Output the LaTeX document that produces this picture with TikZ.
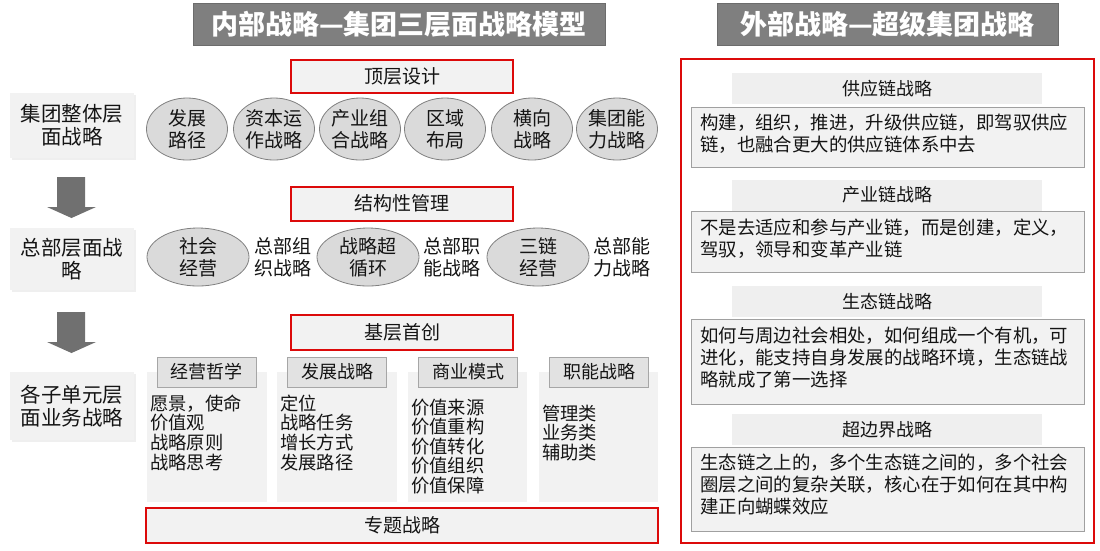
\documentclass[tikz,border=0pt]{standalone}
\usepackage{fontspec}
\setmainfont{Noto Sans CJK SC}
\usetikzlibrary{shapes.geometric,shadows}
\definecolor{tgray}{HTML}{7F7F7F}
\definecolor{redc}{HTML}{DC0A0A}
\definecolor{boxfill}{HTML}{F2F2F2}
\definecolor{efill}{HTML}{DADADA}
\definecolor{eborder}{HTML}{808080}
\definecolor{hfill}{HTML}{E2E2E2}
\definecolor{hborder}{HTML}{A6A6A6}
\definecolor{rhfill}{HTML}{EFEFEF}
\definecolor{rborder}{HTML}{A0A0A0}
\definecolor{agray}{HTML}{707070}
\definecolor{txt}{HTML}{141414}
\begin{document}
\begin{tikzpicture}[x=1pt,y=-1pt,
  every node/.style={text=txt},
  titlebox/.style={fill=tgray, draw=tgray!85!black, line width=0.6pt, text=white, inner sep=0,
    font=\fontsize{27}{30}\selectfont\bfseries, minimum height=42},
  redbox/.style={draw=redc, line width=2pt, fill=boxfill, inner sep=0, minimum width=222,
    font=\fontsize{19}{22}\selectfont},
  lbl/.style={fill=boxfill, align=center, inner sep=0, minimum width=124,
    font=\fontsize{20.5}{23}\selectfont,
    drop shadow={opacity=0.12, shadow xshift=1.5pt, shadow yshift=-1.5pt}},
  ell/.style={ellipse, draw=eborder, fill=efill, line width=0.8pt, align=center, inner sep=0,
    font=\fontsize{19}{22}\selectfont},
  plaintxt/.style={align=center, inner sep=0, font=\fontsize{19}{22}\selectfont},
  hdr/.style={draw=hborder, fill=hfill, line width=0.8pt, minimum width=99, minimum height=30,
    inner sep=0, font=\fontsize{18}{20}\selectfont},
  colbg/.style={fill=boxfill, draw=none},
  listtxt/.style={anchor=north west, align=left, inner sep=0, font=\fontsize{18.3}{19.6}\selectfont},
  rhdr/.style={fill=rhfill, minimum width=310, minimum height=31, inner sep=0,
    font=\fontsize{18}{20}\selectfont},
  rbox/.style={draw=rborder, fill=boxfill, line width=0.8pt},
  rtxt/.style={anchor=north west, align=left, inner sep=0, font=\fontsize{18.4}{22}\selectfont},
  downarrow/.style={fill=agray, draw=none}
]
\useasboundingbox (0,0) rectangle (1100,550);
\fill[white] (0,0) rectangle (1100,550);

% titles
\node[titlebox, minimum width=412] (t1) at (399,24) {内部战略—集团三层面战略模型};
\node[titlebox, minimum width=341] (t2) at (887.5,24) {外部战略—超级集团战略};

% left labels
\node[lbl, minimum height=65] (l1) at (72,125.5) {集团整体层\\面战略};
\node[lbl, minimum height=62] (l2) at (72,259) {总部层面战\\略};
\node[lbl, minimum height=68] (l3) at (72,406) {各子单元层\\面业务战略};

% down arrows
\fill[downarrow] (57,177) -- (85,177) -- (85,207) -- (96,207) -- (71.5,218) -- (47,207) -- (57,207) -- cycle;
\fill[downarrow] (57,312) -- (85,312) -- (85,342) -- (96,342) -- (71.5,353) -- (47,342) -- (57,342) -- cycle;

% row 1
\node[redbox, minimum height=33] (top) at (402,76.5) {顶层设计};
\foreach \x/\t [count=\i] in {187/发展\\路径, 274/资本运\\作战略, 360/产业组\\合战略, 445/区域\\布局, 532/横向\\战略, 617/集团能\\力战略}
  \node[ell, minimum width=81, minimum height=62] (e1\i) at (\x,129) {\t};

% row 2
\node[redbox, minimum height=34] (mid) at (402,203.5) {结构性管理};
\node[ell, minimum width=102, minimum height=58] (e21) at (198,257) {社会\\经营};
\node[plaintxt] (p21) at (283,257) {总部组\\织战略};
\node[ell, minimum width=102, minimum height=58] (e22) at (368,257) {战略超\\循环};
\node[plaintxt] (p22) at (452,257) {总部职\\能战略};
\node[ell, minimum width=102, minimum height=58] (e23) at (538,257) {三链\\经营};
\node[plaintxt] (p23) at (622,257) {总部能\\力战略};

% row 3
\node[redbox, minimum height=35] (bot) at (402,332.5) {基层首创};
\fill[colbg] (147,372) rectangle (267,502);
\fill[colbg] (277,372) rectangle (397,502);
\fill[colbg] (408,372) rectangle (527,502);
\fill[colbg] (539,372) rectangle (658,502);
\node[hdr] (h1) at (206.5,372) {经营哲学};
\node[hdr] (h2) at (337,372) {发展战略};
\node[hdr] (h3) at (468,372) {商业模式};
\node[hdr] (h4) at (599,372) {职能战略};
\node[listtxt] (c1) at (150,394.5) {愿景，使命\\价值观\\战略原则\\战略思考};
\node[listtxt] (c2) at (280,394.5) {定位\\战略任务\\增长方式\\发展路径};
\node[listtxt] (c3) at (411,398.5) {价值来源\\价值重构\\价值转化\\价值组织\\价值保障};
\node[listtxt] (c4) at (542,404.5) {管理类\\业务类\\辅助类};
\node[redbox, minimum width=512, minimum height=35] (spec) at (402,525.5) {专题战略};

% right side
\draw[redc, line width=2pt] (681,59) rectangle (1094,543);
\node[rhdr] (r1) at (887,88.5) {供应链战略};
\draw[rbox] (691,107) rectangle (1084,167);
\node[rtxt] (rt1) at (700,113.5) {构建，组织，推进，升级供应链，即驾驭供应\\链，也融合更大的供应链体系中去};
\node[rhdr] (r2) at (887,195) {产业链战略};
\draw[rbox] (691,211) rectangle (1084,272);
\node[rtxt] (rt2) at (700,218.5) {不是去适应和参与产业链，而是创建，定义，\\驾驭，领导和变革产业链};
\node[rhdr] (r3) at (887,301.5) {生态链战略};
\draw[rbox] (691,319) rectangle (1084,404);
\node[rtxt] (rt3) at (700,326.5) {如何与周边社会相处，如何组成一个有机，可\\进化，能支持自身发展的战略环境，生态链战\\略就成了第一选择};
\node[rhdr] (r4) at (887,429.5) {超边界战略};
\draw[rbox] (691,447) rectangle (1084,531);
\node[rtxt] (rt4) at (700,453.5) {生态链之上的，多个生态链之间的，多个社会\\圈层之间的复杂关联，核心在于如何在其中构\\建正向蝴蝶效应};
\end{tikzpicture}
\end{document}
